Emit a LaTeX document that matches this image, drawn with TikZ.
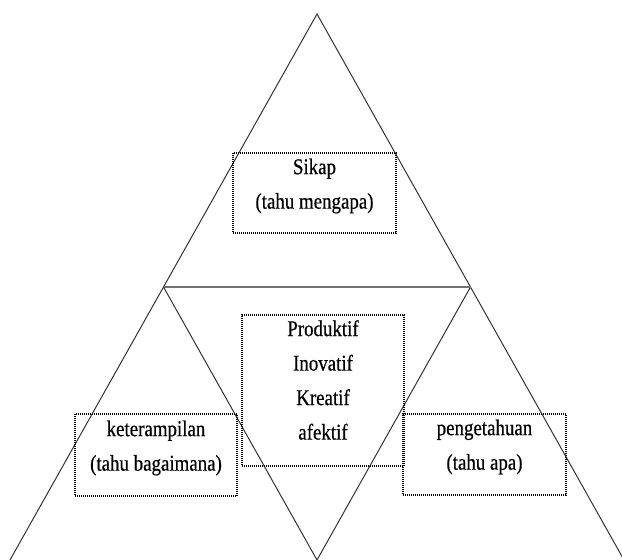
\documentclass[tikz,border=0pt]{standalone}
\usepackage{fontspec}
\setmainfont{Liberation Serif}[FakeStretch=0.84,FakeBold=0.5]
\usetikzlibrary{calc}
\begin{document}
\begin{tikzpicture}[x=1pt,y=-1pt,
  side/.style={draw=black!80,line width=1pt},
  midline/.style={draw=black!55,line width=2.4pt},
  dotbox/.style={draw=black,line width=1.3pt,dash pattern=on 1pt off 1pt,inner sep=0pt},
  lbl/.style={align=center,inner sep=0pt,font=\fontsize{22.5}{34.5}\selectfont}]
\useasboundingbox (0,0) rectangle (622,560);
\coordinate (A) at (317,14);
\coordinate (BL) at (10,560);
\coordinate (BR) at (624,560);
\coordinate (BM) at (317,560);
\coordinate (ML) at ($(A)!0.5!(BL)$);
\coordinate (MR) at ($(A)!0.5!(BR)$);
\draw[side] (BL) -- (A) -- (BR);
\draw[side] (ML) -- (BM) -- (MR);
\draw[midline] (ML) -- (MR);
\node[dotbox,minimum width=163pt,minimum height=80pt] (b1) at (314.5,193) {};
\node[lbl] (t1) at (314.5,186) {Sikap\\(tahu mengapa)};
\node[dotbox,minimum width=162pt,minimum height=151pt] (b2) at (323,390.5) {};
\node[lbl] (t2) at (323,380) {Produktif\\Inovatif\\Kreatif\\afektif};
\node[dotbox,minimum width=162pt,minimum height=82pt] (b3) at (156,455) {};
\node[lbl] (t3) at (156,448) {keterampilan\\(tahu bagaimana)};
\node[dotbox,minimum width=163pt,minimum height=81pt] (b4) at (484.5,454.5) {};
\node[lbl] (t4) at (484.5,447) {pengetahuan\\(tahu apa)};
\end{tikzpicture}
\end{document}
